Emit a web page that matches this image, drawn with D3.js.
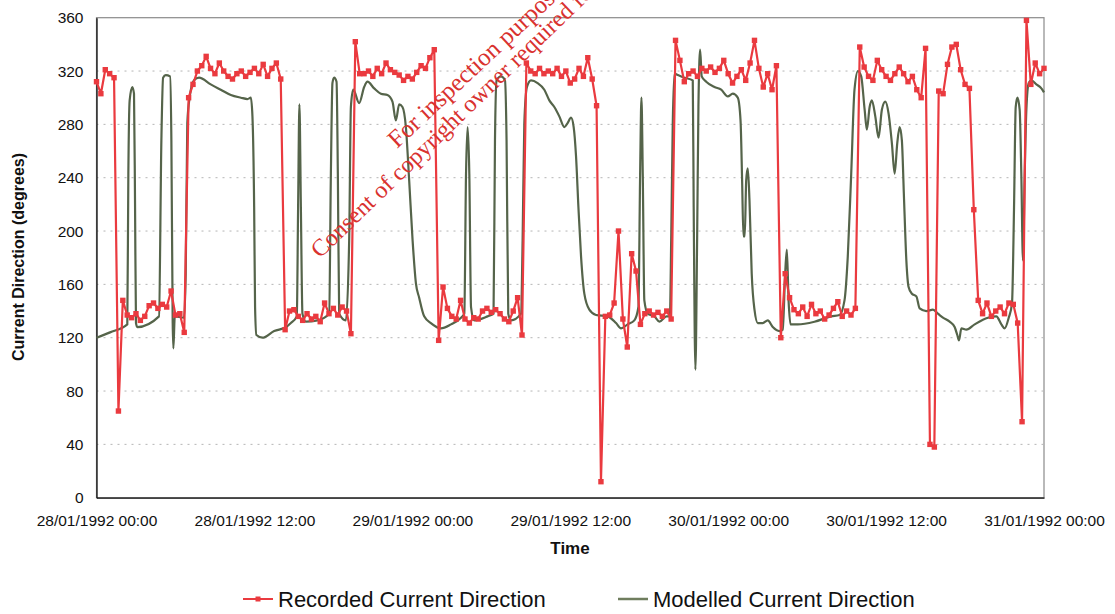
<!DOCTYPE html>
<html>
<head>
<meta charset="utf-8">
<script src="https://cdn.jsdelivr.net/npm/d3@7"></script>
<style>
  body { margin: 0; background: #fff; }
  text { font-family: "Liberation Sans", Arial, sans-serif; fill: #111; }
</style>
</head>
<body>
<div id="container"></div>
<script>
/* DATA */
// recorded direction, one reading every 20 minutes from 28/01/1992 00:00
const recordedValues = [
  312,303,321,318,315,65,148,137,135,138,133,136,144,146,142,145,143,155,137,138,
  124,300,310,320,324,331,322,318,326,320,316,314,318,320,316,319,322,318,325,316,
  322,326,314,126,140,141,136,133,138,134,136,132,146,138,142,137,143,140,123,342,
  318,318,320,316,322,318,326,321,319,317,313,316,314,319,324,322,330,336,118,158,
  142,136,134,148,134,131,135,134,140,142,139,141,138,134,132,140,150,122,326,320,
  318,322,318,320,318,322,316,320,311,314,322,316,330,314,294,12,136,137,146,200,
  134,113,183,170,130,138,140,137,139,136,140,134,343,328,312,318,320,316,322,320,
  323,319,322,328,318,311,316,321,313,326,343,322,308,318,306,324,120,168,150,141,
  138,143,136,145,138,140,134,137,142,147,136,140,137,142,338,323,316,313,328,321,
  316,313,318,323,318,312,316,306,300,337,40,38,305,303,325,338,340,321,310,307,
  216,148,138,146,136,140,143,138,146,145,131,57,358,310,326,318,322
];
const recordedStepHours = 1 / 3;

// modelled direction: hours since 28/01/1992 00:00 and degrees
const modelledHours = [
  0.00,1.03,2.34,2.42,2.52,2.72,2.85,2.93,3.00,3.10,4.75,4.93,5.06,5.26,5.59,5.69,5.79,5.84,5.95,6.65,
  6.78,6.90,7.09,7.41,7.79,8.68,9.44,10.21,10.97,11.47,11.73,11.85,11.98,12.05,12.15,12.61,13.50,14.41,14.77,15.22,
  15.32,15.42,15.53,15.65,15.91,16.79,17.68,17.81,17.93,18.06,18.24,18.34,18.44,18.95,19.20,19.33,19.51,19.96,20.34,20.59,
  21.10,21.61,22.11,22.49,22.75,23.00,23.25,23.51,23.76,24.02,24.27,24.52,24.90,25.41,26.17,26.94,27.70,27.95,28.08,28.20,
  28.33,28.46,28.71,29.72,30.17,30.28,30.40,30.74,31.04,31.16,31.29,31.50,32.26,32.38,32.51,32.71,33.02,33.52,34.03,34.41,
  34.79,35.17,35.55,35.80,36.06,36.26,36.44,36.62,36.82,37.07,37.45,37.96,38.84,39.48,39.86,40.36,40.87,41.18,41.31,41.41,
  41.51,41.63,41.89,42.40,42.78,43.31,43.57,43.67,43.79,43.92,44.17,44.68,45.31,45.38,45.51,45.64,45.74,45.87,45.99,46.33,
  46.96,47.47,47.97,48.35,48.73,48.94,49.06,49.16,49.26,49.37,49.49,49.62,49.79,50.00,50.25,50.63,51.01,51.39,51.90,52.15,
  52.33,52.46,52.59,52.74,53.29,54.56,55.83,56.46,56.84,57.09,57.35,57.60,57.86,58.11,58.37,58.54,58.75,58.92,59.18,59.43,
  59.68,59.94,60.19,60.44,60.65,60.85,61.03,61.20,61.35,61.54,61.71,61.96,62.30,62.55,63.06,63.56,63.94,64.32,64.83,65.21,
  65.41,65.54,65.72,66.10,66.73,67.74,68.38,68.76,69.01,69.32,69.57,69.72,69.85,69.98,70.15,70.28,70.40,70.53,70.66,70.84,
  71.04,71.42,71.80,72.00
];
const modelledValues = [
  120,124,130,243,298,308,303,218,131,128,136,268,315,317,316,268,131,112,136,135,
  168,281,301,313,315,310,306,302,300,299,300,286,218,143,122,120,125,128,131,136,
  218,295,218,138,132,133,138,243,311,315,312,243,138,133,193,293,306,296,308,312,
  307,303,302,297,283,295,293,278,238,193,161,150,136,131,127,130,135,138,243,278,
  243,143,133,136,138,268,313,316,313,268,138,133,138,193,281,308,313,311,306,298,
  293,286,278,281,285,278,256,218,181,153,141,137,136,131,127,130,133,143,243,300,
  243,148,138,136,132,136,136,193,281,318,317,315,313,218,96,193,293,336,316,312,
  308,306,301,303,300,283,238,196,196,238,247,223,168,141,131,131,133,128,125,126,
  168,186,148,130,130,132,136,137,148,181,243,306,320,316,291,276,293,298,286,270,
  291,297,288,266,243,266,278,268,228,178,158,153,151,142,140,141,138,135,132,128,
  122,118,127,126,130,135,136,130,127,135,146,216,293,300,291,241,178,241,291,311,
  313,310,307,304
];

const yTicks = [0, 40, 80, 120, 160, 200, 240, 280, 320, 360];
const xTickLabels = ["28/01/1992 00:00", "28/01/1992 12:00", "29/01/1992 00:00",
  "29/01/1992 12:00", "30/01/1992 00:00", "30/01/1992 12:00", "31/01/1992 00:00"];
const seriesNames = ["Recorded Current Direction", "Modelled Current Direction"];

/* CONSTANTS */
const width = 1115, height = 614;
const margin = { left: 96.5, right: 71, top: 17.7, bottom: 116.3 };
const redColor = "#ea3a3f", greenColor = "#55644a";

const parseTime = d3.utcParse("%d/%m/%Y %H:%M");
const fmtTime = d3.utcFormat("%d/%m/%Y %H:%M");
const start = parseTime(xTickLabels[0]);
const hoursToDate = h => new Date(start.getTime() + h * 3600e3);

const recorded = recordedValues.map((v, i) => ({ t: hoursToDate(i * recordedStepHours), v }));
const modelled = modelledHours.map((h, i) => ({ t: hoursToDate(h), v: modelledValues[i] }));

/* SCALES */
const xScale = d3.scaleUtc()
  .domain([start, parseTime(xTickLabels[xTickLabels.length - 1])])
  .range([margin.left, width - margin.right]);

const yScale = d3.scaleLinear()
  .domain([0, 360])
  .range([height - margin.bottom, margin.top]);

const svg = d3.select("#container").append("svg")
  .attr("width", width)
  .attr("height", height);

// plot frame
svg.append("rect")
  .attr("x", margin.left).attr("y", margin.top)
  .attr("width", width - margin.left - margin.right)
  .attr("height", height - margin.top - margin.bottom)
  .attr("fill", "none").attr("stroke", "#8a8a8a").attr("stroke-width", 1.2);

// dotted grid
svg.append("g").selectAll("line")
  .data(yTicks.filter(d => d > 0 && d < 360))
  .join("line")
  .attr("x1", margin.left).attr("x2", width - margin.right)
  .attr("y1", d => yScale(d)).attr("y2", d => yScale(d))
  .attr("stroke", "#b5b5b5").attr("stroke-width", 1)
  .attr("stroke-dasharray", "2,5");

/* AXES */
const yAxis = d3.axisLeft(yScale).tickValues(yTicks).tickSize(0).tickPadding(13);
const xAxis = d3.axisBottom(xScale).tickValues(xTickLabels.map(parseTime))
  .tickFormat(fmtTime).tickSize(0).tickPadding(17);

const gy = svg.append("g").attr("transform", `translate(${margin.left},0)`).call(yAxis);
const gx = svg.append("g").attr("transform", `translate(0,${height - margin.bottom})`).call(xAxis);
[gx, gy].forEach(g => {
  g.select(".domain").attr("stroke", "#111").attr("stroke-width", 1.3);
  g.selectAll("text").attr("font-size", 15.5).attr("fill", "#111")
    .attr("font-family", "'Liberation Sans', Arial, sans-serif");
});

svg.append("text")
  .attr("x", 570).attr("y", 554)
  .attr("text-anchor", "middle")
  .attr("font-size", 17).attr("font-weight", "bold")
  .text("Time");

svg.append("text")
  .attr("transform", "translate(24,257) rotate(-90)")
  .attr("text-anchor", "middle")
  .attr("font-size", 16).attr("font-weight", "bold")
  .text("Current Direction (degrees)");

/* LINES */
const plot = svg.append("g");

plot.append("path")
  .datum(modelled)
  .attr("fill", "none")
  .attr("stroke", greenColor)
  .attr("stroke-width", 2.2)
  .attr("stroke-linejoin", "round")
  .attr("d", d3.line().x(d => xScale(d.t)).y(d => yScale(d.v)).curve(d3.curveMonotoneX));

plot.append("path")
  .datum(recorded)
  .attr("fill", "none")
  .attr("stroke", redColor)
  .attr("stroke-width", 2.2)
  .attr("stroke-linejoin", "round")
  .attr("d", d3.line().x(d => xScale(d.t)).y(d => yScale(d.v)));

plot.selectAll("rect.mark")
  .data(recorded)
  .join("rect")
  .attr("class", "mark")
  .attr("x", d => xScale(d.t) - 2.7)
  .attr("y", d => yScale(d.v) - 2.7)
  .attr("width", 5.4).attr("height", 5.4)
  .attr("fill", redColor);

/* LEGEND */
const legend = svg.append("g");
legend.append("line").attr("x1", 243).attr("x2", 273).attr("y1", 599).attr("y2", 599)
  .attr("stroke", redColor).attr("stroke-width", 2);
legend.append("rect").attr("x", 255.5).attr("y", 596.5).attr("width", 5).attr("height", 5)
  .attr("fill", redColor);
legend.append("text").attr("x", 278).attr("y", 607).attr("font-size", 22).text(seriesNames[0]);
legend.append("line").attr("x1", 618).attr("x2", 648).attr("y1", 599).attr("y2", 599)
  .attr("stroke", "#6f7d5e").attr("stroke-width", 2.5);
legend.append("text").attr("x", 653).attr("y", 607).attr("font-size", 22).text(seriesNames[1]);

/* WATERMARK */
const stamp = svg.append("g");
stamp.append("text")
  .attr("transform", "translate(397,149) rotate(-43)")
  .style("font-family", "'Liberation Serif', serif").style("font-size", "25px").style("fill", "#d9322f")
  .text("For inspection purposes only.");
stamp.append("text")
  .attr("transform", "translate(320,259) rotate(-44)")
  .style("font-family", "'Liberation Serif', serif").style("font-size", "24px").style("fill", "#d9322f")
  .text("Consent of copyright owner required for any other use.");
</script>
</body>
</html>
